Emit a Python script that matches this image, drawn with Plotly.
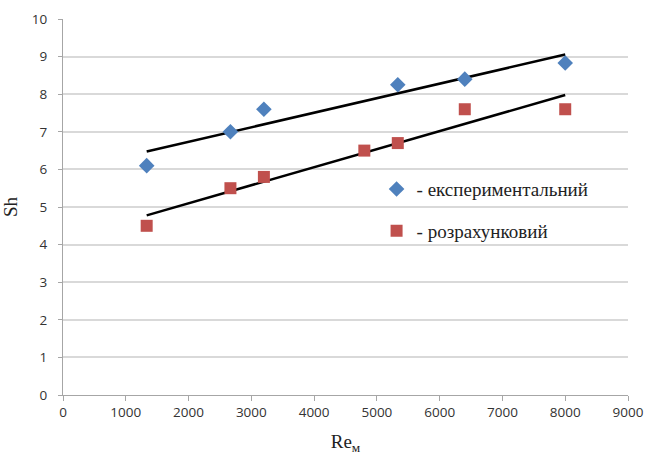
import numpy as np
import plotly.graph_objects as go

# Data
exp_x = [1333, 2667, 3200, 5333, 6400, 8000]
exp_y = [6.1, 7.0, 7.6, 8.25, 8.4, 8.83]
calc_x = [1333, 2667, 3200, 4800, 5333, 6400, 8000]
calc_y = [4.5, 5.5, 5.8, 6.5, 6.7, 7.6, 7.6]
exp_name = "- експериментальний"
calc_name = "- розрахунковий"

def trend(xs, ys):
    k, b = np.polyfit(xs, ys, 1)
    xx = [min(xs), max(xs)]
    return xx, [k * v + b for v in xx]

fig = go.Figure()
tx, ty = trend(exp_x, exp_y)
fig.add_trace(go.Scatter(x=tx, y=ty, mode="lines", line=dict(color="black", width=2.5), showlegend=False, hoverinfo="skip"))
tx, ty = trend(calc_x, calc_y)
fig.add_trace(go.Scatter(x=tx, y=ty, mode="lines", line=dict(color="black", width=2.5), showlegend=False, hoverinfo="skip"))

fig.add_trace(go.Scatter(x=exp_x, y=exp_y, mode="markers", name=exp_name, legendgroup="a",
                         marker=dict(symbol="diamond", size=12, color="#4F81BD")))
fig.add_trace(go.Scatter(x=calc_x, y=calc_y, mode="markers", name=calc_name, legendgroup="b",
                         marker=dict(symbol="square", size=12, color="#C0504D")))

serif = dict(family="Liberation Serif", size=19, color="#222222")

fig.update_layout(
    width=646, height=456,
    margin=dict(l=63, r=18, t=19, b=61),
    plot_bgcolor="white", paper_bgcolor="white",
    font=dict(family="Open Sans", size=13.5, color="#333333"),
    legend=dict(x=0.555, y=0.598, xanchor="left", yanchor="top", bgcolor="rgba(0,0,0,0)",
                font=serif, tracegroupgap=14, itemwidth=30),
    xaxis=dict(range=[0, 9000], dtick=1000, showgrid=False, showline=True, linecolor="#a6a6a6",
               ticks="outside", ticklen=5, tickcolor="#a6a6a6", zeroline=False, automargin=False,
               ticklabeloverflow="allow",
               title=dict(text="Re<sub>м</sub>", font=serif, standoff=14)),
    yaxis=dict(range=[0, 10], dtick=1, showgrid=True, gridcolor="#d9d9d9", gridwidth=1.5,
               showline=True, linecolor="#a6a6a6", ticks="outside", ticklen=4, tickcolor="#a6a6a6",
               zeroline=False, automargin=False, ticklabeloverflow="allow", ticklabelstandoff=8,
               title=dict(text="Sh", font=serif, standoff=10)),
)

fig.write_html("out.html", config={"displayModeBar": False},
               post_script="document.body.style.margin='0';document.body.style.overflow='hidden';")
